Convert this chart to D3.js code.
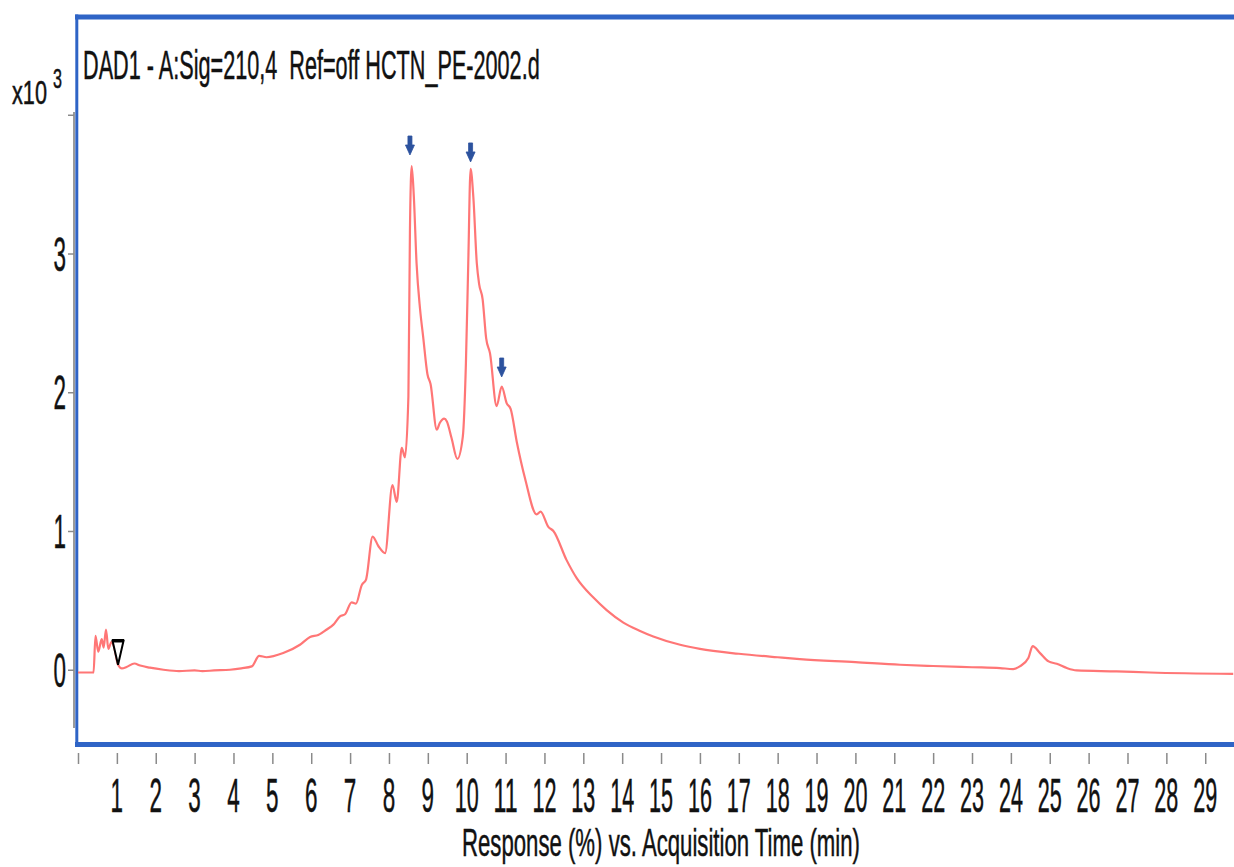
<!DOCTYPE html>
<html><head><meta charset="utf-8">
<script src="https://cdn.jsdelivr.net/npm/d3@7"></script>
<style>html,body{margin:0;padding:0;background:#fff;overflow:hidden} text{white-space:pre}</style>
</head><body>
<svg id="chart" width="1234" height="867"></svg>
<script>
// ---- data ----
const times = [0.0,0.40,0.45,0.52,0.61,0.66,0.72,0.78,0.86,0.92,1.03,1.13,1.25,1.45,1.6,1.85,2.2,2.6,3.0,3.2,3.5,3.91,4.2,4.47,4.66,4.85,5.28,5.71,5.97,6.18,6.40,6.57,6.74,6.87,7.04,7.15,7.30,7.41,7.58,7.73,7.90,8.09,8.20,8.33,8.41,8.50,8.54,8.585,8.64,8.71,8.80,8.88,8.99,9.07,9.23,9.31,9.42,9.49,9.61,9.76,9.90,9.98,10.04,10.10,10.17,10.26,10.32,10.41,10.50,10.60,10.77,10.90,11.03,11.13,11.29,11.50,11.80,11.90,12.10,12.23,12.57,12.83,13.26,13.60,14.03,14.46,14.80,15.49,16.0,17.0,18.0,18.57,20.0,21.15,22.0,23.0,23.72,24.06,24.23,24.45,24.56,24.75,24.97,25.18,25.44,25.69,26.72,27.58,29.72];
const response = [-0.02,-0.02,0.245,0.13,0.22,0.16,0.29,0.15,0.20,0.17,0.036,0.01,0.02,0.045,0.03,0.015,0.0,-0.01,-0.005,-0.01,-0.005,0.0,0.01,0.024,0.10,0.09,0.12,0.18,0.236,0.25,0.29,0.325,0.385,0.40,0.486,0.476,0.61,0.65,0.96,0.89,0.84,1.33,1.21,1.60,1.53,1.97,3.17,3.63,3.41,2.93,2.60,2.40,2.13,2.06,1.73,1.78,1.81,1.79,1.67,1.52,1.68,2.21,2.93,3.61,3.41,2.93,2.78,2.67,2.39,2.28,1.90,2.04,1.92,1.88,1.64,1.38,1.12,1.14,1.03,1.00,0.79,0.66,0.52,0.43,0.34,0.28,0.24,0.18,0.15,0.115,0.09,0.077,0.055,0.036,0.027,0.018,0.012,0.005,0.024,0.084,0.17,0.12,0.06,0.043,0.012,-0.005,-0.012,-0.02,-0.03];
const xTicks = d3.range(0, 30);
const xTickLabels = xTicks.map(d => d === 0 ? "" : String(d));
const yTicks = [0, 1, 2, 3, 4];
const yTickLabels = ["0", "1", "2", "3", ""];
const arrowTimes = [8.54, 10.10, 10.90];
const arrowValues = [3.71, 3.66, 2.11];
const markerTime = [1.03];
const markerValue = [0.036];
const titleText = "DAD1 - A:Sig=210,4  Ref=off HCTN_PE-2002.d";
const xAxisTitle = "Response (%) vs. Acquisition Time (min)";

// ---- scales ----
const x = d3.scaleLinear().domain([0, 30]).range([78, 78 + 38.87 * 30]);
const y = d3.scaleLinear().domain([-0.42, 4.02]).range([728, 112]);

const svg = d3.select("#chart");
const FONT = "'Liberation Sans', Arial, sans-serif";

// condensed text: natural glyphs squeezed horizontally to a target width
function txt(g, s, px, py, size, len, anchor) {
  const t = g.append("text").attr("x", 0).attr("y", 0)
    .attr("font-family", FONT).attr("font-size", size).attr("fill", "#111")
    .attr("stroke", "#111").attr("stroke-width", 0.5)
    .attr("text-anchor", anchor || "start").text(s);
  const w = t.node().getComputedTextLength();
  const sx = len && w ? len / w : 1;
  t.attr("transform", `translate(${px},${py}) scale(${sx},1)`);
  return t;
}

// y axis gray line + ticks
const yAxis = svg.append("g").attr("transform", "translate(74,0)")
  .call(d3.axisLeft(y).tickValues(yTicks).tickSize(6).tickFormat(""));
yAxis.select(".domain").attr("stroke", "#9a9a9a").attr("stroke-width", 2)
  .attr("d", `M0,${y(4.02)}V${y(-0.42)}`);
yAxis.selectAll(".tick line").attr("stroke", "#8a8a8a").attr("stroke-width", 1.5);
yTicks.forEach((v, i) => {
  if (yTickLabels[i]) txt(svg, yTickLabels[i], 66, y(v) + 17, 48, 12.5, "end");
});

// x axis ticks (below frame)
const xAxis = svg.append("g").attr("transform", "translate(0,753)")
  .call(d3.axisBottom(x).tickValues(xTicks).tickSize(11).tickFormat(""));
xAxis.select(".domain").remove();
xAxis.selectAll(".tick line").attr("stroke", "#8a8a8a").attr("stroke-width", 1.5);
xTicks.forEach((v, i) => {
  const s = xTickLabels[i];
  if (s) txt(svg, s, x(v), 812, 48, s.length === 1 ? 12.5 : 24, "middle");
});

// frame (blue)
const blue = "#2f64c6";
svg.append("line").attr("x1", 75).attr("x2", 1234).attr("y1", 17).attr("y2", 17)
  .attr("stroke", blue).attr("stroke-width", 5);
svg.append("line").attr("x1", 75).attr("x2", 1234).attr("y1", 744.5).attr("y2", 744.5)
  .attr("stroke", blue).attr("stroke-width", 5);
svg.append("line").attr("x1", 76.8).attr("x2", 76.8).attr("y1", 14.5).attr("y2", 747)
  .attr("stroke", blue).attr("stroke-width", 3);

// chromatogram line
const line = d3.line().x((d, i) => x(times[i])).y(d => y(d)).curve(d3.curveMonotoneX);
svg.append("path").datum(response).attr("d", line)
  .attr("fill", "none").attr("stroke", "#ff7676").attr("stroke-width", 2.2)
  .attr("stroke-linejoin", "round");

// arrows
arrowTimes.forEach((t, i) => {
  const ax = x(t), ay = y(arrowValues[i]);
  svg.append("path")
    .attr("d", `M${ax-2},${ay-19}H${ax+2}V${ay-10}H${ax+4.5}L${ax},${ay}L${ax-4.5},${ay-10}H${ax-2}Z`)
    .attr("fill", "#2c529e").attr("stroke", "#2c529e").attr("stroke-width", 0.8)
    .attr("stroke-linejoin", "round");
});

// start marker (downward triangle)
markerTime.forEach((t, i) => {
  const mx = x(t), my = y(markerValue[i]);
  svg.append("path")
    .attr("d", `M${mx},${my}L${mx-5.5},${my-24}L${mx+5.5},${my-24}Z`)
    .attr("fill", "#fff").attr("stroke", "#000").attr("stroke-width", 2);
  svg.append("line").attr("x1", mx-6).attr("x2", mx+6).attr("y1", my-24).attr("y2", my-24)
    .attr("stroke", "#000").attr("stroke-width", 3.5);
});

// texts
txt(svg, titleText, 83, 79, 41, 457);
txt(svg, "x10", 12, 104, 34, 35);
txt(svg, "3", 53, 88, 28, 9);
txt(svg, xAxisTitle, 462, 856, 39, 398);
</script>
</body></html>
